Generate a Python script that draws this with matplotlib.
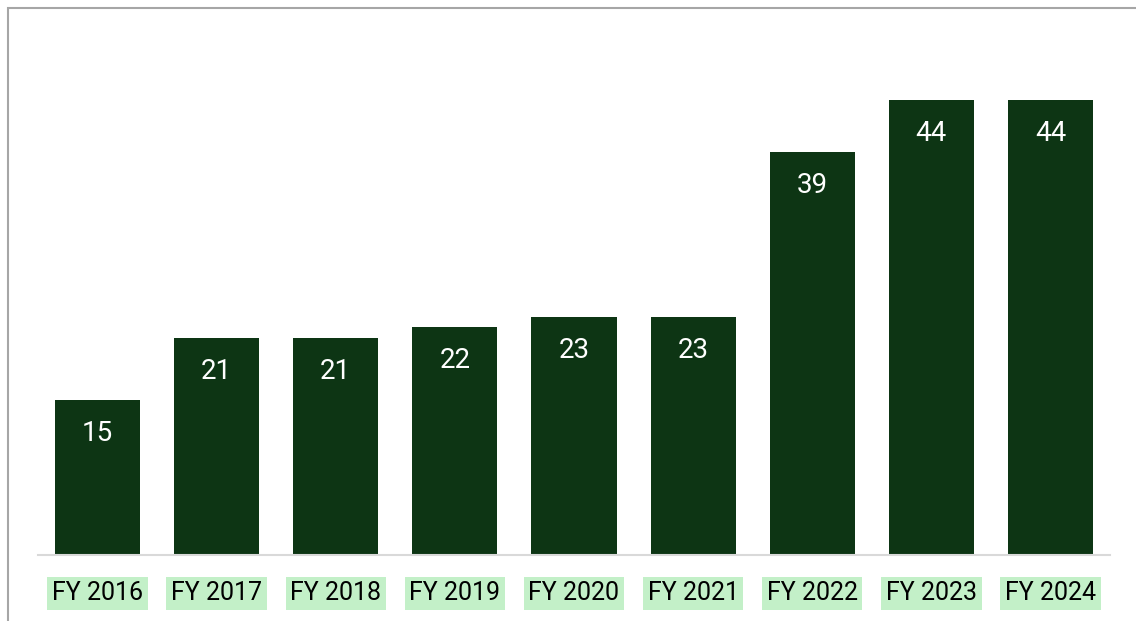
import matplotlib.pyplot as plt
from matplotlib.patches import Rectangle

years = ["FY 2016", "FY 2017", "FY 2018", "FY 2019", "FY 2020",
         "FY 2021", "FY 2022", "FY 2023", "FY 2024"]
values = [15, 21, 21, 22, 23, 23, 39, 44, 44]

bar_color = "#0d3514"
label_bg = "#c3f0c8"

plt.rcParams["font.family"] = ["Roboto", "DejaVu Sans"]

fig = plt.figure(figsize=(11.36, 6.21), dpi=100)
ax = fig.add_axes([38 / 1136, 66 / 621, 1072 / 1136, (555 - 58.6) / 621])

x = range(len(years))
bars = ax.bar(x, values, width=0.715, color=bar_color, zorder=2)

# value labels sit inside the top of each bar
for rect, v in zip(bars, values):
    ax.annotate(f"{v}", (rect.get_x() + rect.get_width() / 2, v),
                xytext=(0, -24), textcoords="offset points",
                ha="center", va="center", color="white", fontsize=20)

ax.set_xlim(-0.5, len(years) - 0.5)
ax.set_ylim(0, 48)
ax.set_yticks([])
ax.set_xticks(list(x))
ax.set_xticklabels(years, fontsize=18, color="black")
ax.tick_params(axis="x", length=0, pad=19)
for lbl in ax.get_xticklabels():
    lbl.set_bbox(dict(facecolor=label_bg, edgecolor="none", pad=3.5))

for side in ["top", "right", "left"]:
    ax.spines[side].set_visible(False)
ax.spines["bottom"].set_color("#d9d9d9")
ax.spines["bottom"].set_linewidth(1.5)

# outer chart frame (only top and left edges fall inside the image)
fig.patches.append(Rectangle((8 / 1136, -0.1), 1.2, (621 - 8) / 621 + 0.1,
                             transform=fig.transFigure, fill=False,
                             edgecolor="#a6a6a6", linewidth=1.5))

fig.savefig("out.png", dpi=100)
